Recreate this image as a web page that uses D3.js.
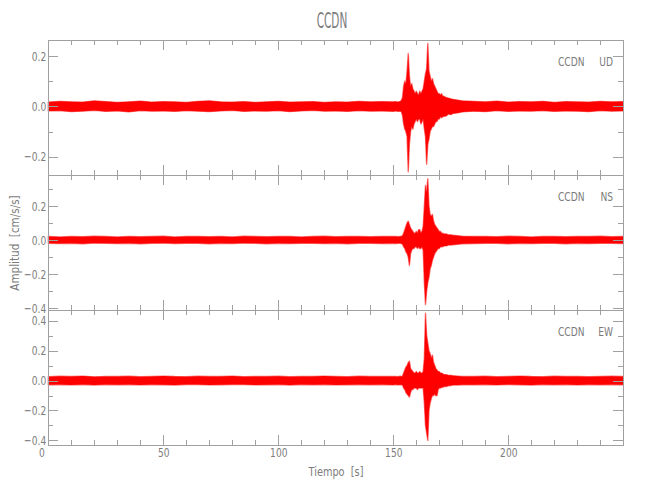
<!DOCTYPE html>
<html><head><meta charset="utf-8">
<script src="https://cdn.jsdelivr.net/npm/d3@7"></script>
<style>body{margin:0;background:#fff}</style>
</head><body><svg id="c" width="650" height="500"></svg>
<script>
// sample times (s) of the envelope bins
const time=[0,5,10,15,20,25,30,35,40,45,50,55,60,65,70,75,80,85,90,95,100,105,110,115,120,125,130,135,140,145,150,
151,152,153,
153.5,154,154.5,155,155.5,156,156.5,157,157.5,158,158.5,159,159.5,160,160.5,161,161.5,162,162.5,163,163.5,164,164.5,165,165.5,166,166.5,167,167.5,168,168.5,169,169.5,170,170.5,171,171.5,172,
173,174,175,176,178,180,
185,190,195,200,205,210,215,220,225,230,235,240,245,250];

// UD component: upper / lower envelope (cm/s/s)
const udMax=[0.017,0.020,0.018,0.017,0.022,0.019,0.016,0.018,0.021,0.017,0.019,0.018,0.016,0.020,0.022,0.018,0.017,0.019,0.016,0.018,0.020,0.017,0.018,0.019,0.016,0.018,0.017,0.020,0.018,0.019,0.018,
0.019,0.017,0.020,
0.023,0.035,0.08,0.10,0.09,0.14,0.21,0.12,0.08,0.09,0.07,0.06,0.05,0.06,0.05,0.045,0.06,0.05,0.06,0.07,0.10,0.13,0.15,0.25,0.14,0.12,0.10,0.11,0.09,0.08,0.07,0.06,0.05,0.05,0.045,0.05,0.04,0.04,
0.035,0.033,0.03,0.028,0.025,0.022,
0.020,0.018,0.021,0.017,0.019,0.018,0.020,0.016,0.019,0.018,0.017,0.020,0.018,0.019];
const udMin=[-0.018,-0.017,-0.021,-0.019,-0.016,-0.020,-0.018,-0.022,-0.017,-0.019,-0.018,-0.020,-0.017,-0.019,-0.021,-0.018,-0.016,-0.020,-0.018,-0.019,-0.017,-0.021,-0.018,-0.016,-0.019,-0.018,-0.020,-0.017,-0.019,-0.018,-0.020,
-0.018,-0.020,-0.019,
-0.021,-0.035,-0.07,-0.09,-0.10,-0.12,-0.26,-0.15,-0.10,-0.08,-0.09,-0.07,-0.06,-0.05,-0.06,-0.05,-0.05,-0.07,-0.06,-0.05,-0.09,-0.12,-0.23,-0.15,-0.13,-0.10,-0.09,-0.08,-0.08,-0.07,-0.06,-0.06,-0.05,-0.05,-0.04,-0.045,-0.04,-0.04,
-0.038,-0.03,-0.033,-0.028,-0.026,-0.022,
-0.019,-0.021,-0.017,-0.020,-0.018,-0.019,-0.017,-0.020,-0.018,-0.019,-0.021,-0.017,-0.019,-0.018];

// NS component
const nsMax=[0.020,0.018,0.021,0.019,0.022,0.020,0.018,0.021,0.019,0.020,0.022,0.018,0.020,0.021,0.019,0.020,0.018,0.022,0.020,0.019,0.021,0.020,0.018,0.020,0.022,0.019,0.020,0.021,0.019,0.020,0.021,
0.020,0.019,0.021,
0.022,0.025,0.04,0.06,0.08,0.10,0.11,0.09,0.07,0.06,0.05,0.04,0.04,0.05,0.04,0.06,0.06,0.04,0.05,0.08,0.20,0.32,0.28,0.36,0.20,0.15,0.14,0.15,0.11,0.09,0.08,0.07,0.06,0.05,0.05,0.04,0.04,0.035,
0.035,0.03,0.03,0.028,0.025,0.022,
0.020,0.021,0.019,0.022,0.020,0.018,0.021,0.020,0.019,0.021,0.020,0.022,0.019,0.020];
const nsMin=[-0.019,-0.021,-0.020,-0.022,-0.018,-0.020,-0.021,-0.019,-0.022,-0.020,-0.018,-0.021,-0.020,-0.019,-0.022,-0.020,-0.021,-0.018,-0.020,-0.022,-0.019,-0.021,-0.020,-0.019,-0.021,-0.020,-0.022,-0.019,-0.020,-0.021,-0.020,
-0.021,-0.020,-0.019,
-0.022,-0.025,-0.04,-0.05,-0.07,-0.08,-0.10,-0.15,-0.08,-0.06,-0.05,-0.05,-0.04,-0.04,-0.05,-0.04,-0.05,-0.05,-0.04,-0.06,-0.25,-0.38,-0.30,-0.25,-0.22,-0.17,-0.15,-0.12,-0.10,-0.08,-0.07,-0.06,-0.05,-0.05,-0.04,-0.04,-0.04,-0.035,
-0.035,-0.03,-0.03,-0.028,-0.025,-0.022,
-0.021,-0.019,-0.020,-0.022,-0.020,-0.021,-0.019,-0.020,-0.022,-0.019,-0.021,-0.020,-0.019,-0.021];

// EW component
const ewMax=[0.026,0.029,0.027,0.030,0.025,0.028,0.027,0.029,0.026,0.028,0.030,0.027,0.026,0.029,0.028,0.027,0.030,0.026,0.028,0.027,0.029,0.026,0.028,0.027,0.030,0.028,0.026,0.029,0.027,0.028,0.027,
0.028,0.026,0.029,
0.028,0.03,0.05,0.07,0.09,0.10,0.12,0.13,0.08,0.07,0.06,0.05,0.05,0.06,0.05,0.05,0.06,0.05,0.05,0.06,0.15,0.45,0.30,0.25,0.20,0.18,0.15,0.17,0.12,0.10,0.08,0.07,0.06,0.06,0.05,0.05,0.045,0.04,
0.04,0.035,0.035,0.032,0.03,0.028,
0.027,0.029,0.026,0.028,0.030,0.027,0.026,0.029,0.028,0.027,0.026,0.028,0.029,0.027];
const ewMin=[-0.028,-0.026,-0.029,-0.027,-0.030,-0.026,-0.028,-0.027,-0.029,-0.026,-0.028,-0.030,-0.027,-0.026,-0.029,-0.028,-0.027,-0.026,-0.029,-0.028,-0.027,-0.030,-0.026,-0.028,-0.027,-0.029,-0.028,-0.026,-0.028,-0.027,-0.029,
-0.027,-0.029,-0.028,
-0.028,-0.03,-0.05,-0.06,-0.08,-0.09,-0.10,-0.11,-0.08,-0.06,-0.06,-0.05,-0.05,-0.05,-0.06,-0.05,-0.05,-0.05,-0.05,-0.05,-0.15,-0.30,-0.35,-0.40,-0.20,-0.15,-0.12,-0.10,-0.10,-0.09,-0.10,-0.10,-0.06,-0.05,-0.05,-0.045,-0.045,-0.04,
-0.04,-0.035,-0.033,-0.03,-0.03,-0.028,
-0.028,-0.026,-0.029,-0.027,-0.028,-0.030,-0.026,-0.028,-0.027,-0.029,-0.026,-0.028,-0.027,-0.028];

const station="CCDN";
const components=["UD","NS","EW"];
const xMajorTicks=[0,50,100,150,200];
const xTitle="Tiempo\u00a0\u00a0[s]";
const yTitle="Amplitud\u00a0\u00a0[cm/s/s]";

const svg=d3.select('#c');
svg.append('rect').attr('width',650).attr('height',500).attr('fill','#fff');
const axisColor='#a0a0a0', textColor='#7c7c7c', FONT='DejaVu Sans';
const x=d3.scaleLinear().domain([0,250]).range([48.3,623.3]);
const panels=[
  {comp:components[0],hi:udMax,lo:udMin,dom:[-0.273,0.264],top:40,bottom:175},
  {comp:components[1],hi:nsMax,lo:nsMin,dom:[-0.412,0.382],top:175,bottom:310},
  {comp:components[2],hi:ewMax,lo:ewMin,dom:[-0.431,0.472],top:310,bottom:445}
];
const fmt=v=>d3.format('.1f')(Math.abs(v)<1e-9?0:v);
function styleAxis(g){
  g.select('.domain').remove();
  g.attr('font-family',FONT).attr('font-size',13);
  g.selectAll('line').attr('stroke',axisColor).attr('shape-rendering','crispEdges');
  g.selectAll('text').attr('fill',textColor).attr('transform','scale(0.7,1)');
}
const xMinor=d3.range(0,251,10);
const xMajor=[0,50,100,150,200,250];
panels.forEach((p,pi)=>{
  const y=d3.scaleLinear().domain(p.dom).range([p.bottom,p.top]);
  const area=d3.area().x((d,i)=>x(time[i])).y0((d,i)=>y(p.lo[i])).y1((d,i)=>y(p.hi[i]));
  svg.append('path').datum(time).attr('d',area)
    .attr('fill','#ff0000').attr('stroke','#ff7070').attr('stroke-width',1.4)
    .attr('stroke-linejoin','round').style('paint-order','stroke');
  const yMinor=d3.range(-5,6).map(k=>Math.round(k)/10).filter(v=>v>=p.dom[0]&&v<=p.dom[1]);
  const yMajor=yMinor.filter(v=>Math.abs(Math.round(v*10))%2===0);
  // frame
  svg.append('rect').attr('x',x(0)).attr('y',p.top).attr('width',x(250)-x(0)).attr('height',p.bottom-p.top)
    .attr('fill','none').attr('stroke',axisColor).attr('shape-rendering','crispEdges');
  // left
  svg.append('g').attr('transform',`translate(${x(0)},0)`)
    .call(d3.axisLeft(y).tickValues(yMinor).tickSize(-5).tickFormat('')).call(styleAxis);
  svg.append('g').attr('transform',`translate(${x(0)},0)`)
    .call(d3.axisLeft(y).tickValues(yMajor).tickSize(-10).tickPadding(3).tickFormat(fmt)).call(styleAxis);
  // right
  svg.append('g').attr('transform',`translate(${x(250)},0)`)
    .call(d3.axisRight(y).tickValues(yMinor).tickSize(-5).tickFormat('')).call(styleAxis);
  svg.append('g').attr('transform',`translate(${x(250)},0)`)
    .call(d3.axisRight(y).tickValues(yMajor).tickSize(-10).tickFormat('')).call(styleAxis);
  // top
  svg.append('g').attr('transform',`translate(0,${p.top})`)
    .call(d3.axisTop(x).tickValues(xMinor).tickSize(-5).tickFormat('')).call(styleAxis);
  svg.append('g').attr('transform',`translate(0,${p.top})`)
    .call(d3.axisTop(x).tickValues(xMajor).tickSize(-10).tickFormat('')).call(styleAxis);
  // bottom
  svg.append('g').attr('transform',`translate(0,${p.bottom})`)
    .call(d3.axisBottom(x).tickValues(xMinor).tickSize(-5).tickFormat('')).call(styleAxis);
  const last=pi===panels.length-1;
  const bx=svg.append('g').attr('transform',`translate(0,${p.bottom})`)
    .call(d3.axisBottom(x).tickValues(last?xMajorTicks:xMajor).tickSize(-10).tickPadding(3)
      .tickFormat(last?d3.format('d'):'')).call(styleAxis);
  if(last) bx.selectAll('.tick text').filter(d=>d===0).attr('x',-10);
  // panel label
  svg.append('text').attr('transform',`translate(558,${p.top+26}) scale(0.7,1)`)
    .attr('font-family',FONT).attr('font-size',13).attr('fill',textColor).text(station);
  svg.append('text').attr('transform',`translate(613,${p.top+26}) scale(0.7,1)`)
    .attr('text-anchor','end').attr('font-family',FONT).attr('font-size',13).attr('fill',textColor).text(p.comp);
});
// title
svg.append('text').attr('transform','translate(332,28) scale(0.5,1)').attr('text-anchor','middle')
  .attr('font-family',FONT).attr('font-size',21).attr('fill',textColor).text(station);
// axis titles
svg.append('text').attr('transform','translate(336,476) scale(0.75,1)').attr('text-anchor','middle')
  .attr('font-family',FONT).attr('font-size',13).attr('fill',textColor).text(xTitle);
svg.append('text').attr('transform','translate(19,243) rotate(-90) scale(0.8,1)').attr('text-anchor','middle')
  .attr('font-family',FONT).attr('font-size',13).attr('fill',textColor).text(yTitle);
</script></body></html>
